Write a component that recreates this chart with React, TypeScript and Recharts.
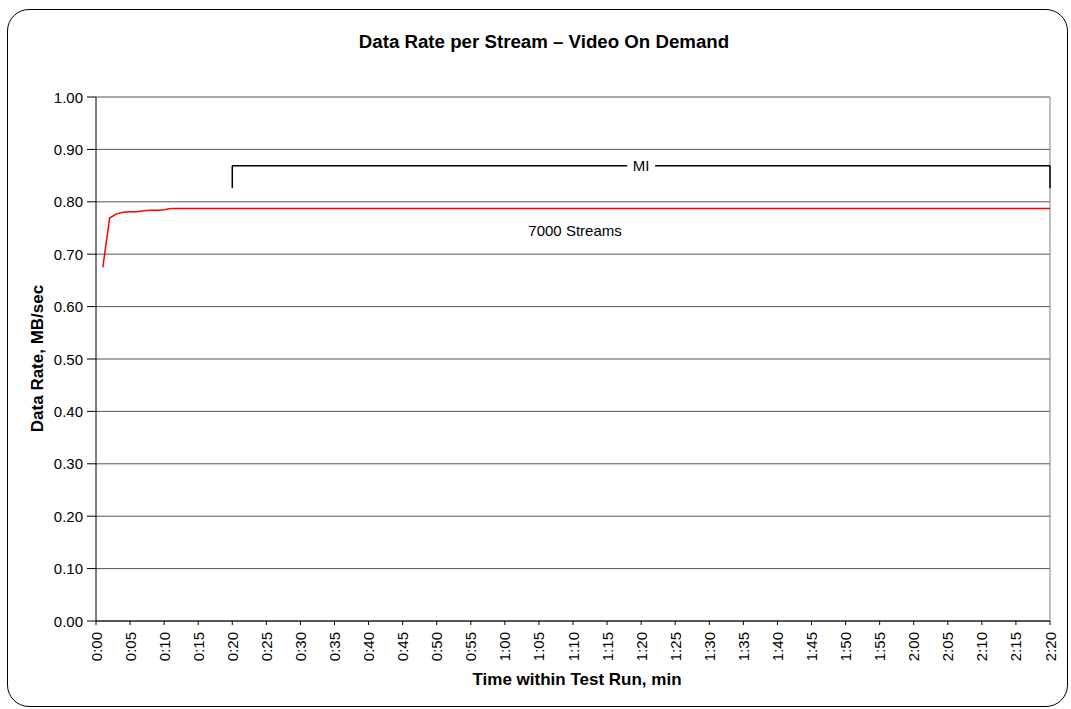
import React from 'react';
import { LineChart, Line, XAxis, YAxis, CartesianGrid, ReferenceLine, ReferenceDot } from 'recharts';

const minutes = [1, 2, 3, 4, 5, 6, 7, 8, 9, 10, 11, 12, 15, 20, 25, 30, 35, 40, 45, 50, 55, 60, 65, 70, 75, 80, 85, 90, 95, 100, 105, 110, 115, 120, 125, 130, 135, 140];
const rates = [0.675, 0.769, 0.777, 0.780, 0.781, 0.781, 0.783, 0.784, 0.784, 0.785, 0.787, 0.787, 0.787, 0.787, 0.787, 0.787, 0.787, 0.787, 0.787, 0.787, 0.787, 0.787, 0.787, 0.787, 0.787, 0.787, 0.787, 0.787, 0.787, 0.787, 0.787, 0.787, 0.787, 0.787, 0.787, 0.787, 0.787, 0.787];
const xTicks = [0, 5, 10, 15, 20, 25, 30, 35, 40, 45, 50, 55, 60, 65, 70, 75, 80, 85, 90, 95, 100, 105, 110, 115, 120, 125, 130, 135, 140];
const yTicks = [0, 0.1, 0.2, 0.3, 0.4, 0.5, 0.6, 0.7, 0.8, 0.9, 1.0];

const bracketStart = 20;
const bracketEnd = 140;
const bracketTop = 0.869;
const bracketBottom = 0.826;
const bracketLabel = 'MI';
const seriesLabel = '7000 Streams';
const seriesLabelPos = { x: 70.3, y: 0.745 };

const data = minutes.map((m, i) => ({ m, rate: rates[i] }));

const FONT = '"Liberation Sans", Arial, sans-serif';

const fmtTime = (m: number) => `${Math.floor(m / 60)}:${String(m % 60).padStart(2, '0')}`;

const XTick = (props: any) => {
  const { x, payload } = props;
  const ay = 632;
  return (
    <text
      x={x}
      y={ay}
      transform={`rotate(-90, ${x}, ${ay})`}
      textAnchor="end"
      dominantBaseline="central"
      fontSize={15}
      fill="#000"
      fontFamily={FONT}
    >
      {fmtTime(payload.value)}
    </text>
  );
};

const YTick = (props: any) => {
  const { y, payload } = props;
  return (
    <text x={83} y={y} textAnchor="end" dominantBaseline="central" fontSize={15} fill="#000" fontFamily={FONT}>
      {Number(payload.value).toFixed(2)}
    </text>
  );
};

const MiShape = (props: any) => {
  const { cx, cy } = props;
  return (
    <g>
      <rect x={cx - 14} y={cy - 9} width={28} height={18} fill="#fff" />
      <text x={cx} y={cy} textAnchor="middle" dominantBaseline="central" fontSize={15} fill="#000" fontFamily={FONT}>
        {bracketLabel}
      </text>
    </g>
  );
};

const StreamsShape = (props: any) => {
  const { cx, cy } = props;
  return (
    <text x={cx} y={cy} textAnchor="middle" dominantBaseline="central" fontSize={15} fill="#000" fontFamily={FONT}>
      {seriesLabel}
    </text>
  );
};

export default function App() {
  return (
    <div style={{ position: 'absolute', left: 0, top: 0, width: 1071, height: 709, background: '#fff', fontFamily: FONT }}>
      <div
        style={{
          position: 'absolute',
          left: 7,
          top: 9,
          width: 1061,
          height: 698,
          border: '1px solid #000',
          borderRadius: 22,
          boxSizing: 'border-box',
        }}
      />
      <svg width={1071} height={709} style={{ position: 'absolute', left: 0, top: 0 }}>
        <text x={544} y={48} textAnchor="middle" fontSize={18.7} fontWeight="bold" fontFamily={FONT} fill="#000">
          Data Rate per Stream – Video On Demand
        </text>
        <text x={577} y={685} textAnchor="middle" fontSize={17} fontWeight="bold" fontFamily={FONT} fill="#000">
          Time within Test Run, min
        </text>
        <text
          x={43}
          y={358.5}
          transform="rotate(-90, 43, 358.5)"
          textAnchor="middle"
          fontSize={17}
          fontWeight="bold"
          fontFamily={FONT}
          fill="#000"
        >
          Data Rate, MB/sec
        </text>
      </svg>
      <div style={{ position: 'absolute', left: 0, top: 0 }}>
        <LineChart width={1071} height={709} data={data} margin={{ top: 97, right: 21, bottom: 28, left: 36 }}>
          <CartesianGrid horizontal={true} vertical={false} stroke="#555555" strokeWidth={1} />
          <XAxis
            dataKey="m"
            type="number"
            domain={[0, 140]}
            ticks={xTicks}
            interval={0}
            height={60}
            tickSize={4}
            tick={<XTick />}
            stroke="#000"
            allowDataOverflow
          />
          <YAxis
            type="number"
            domain={[0, 1]}
            ticks={yTicks}
            interval={0}
            width={60}
            tickSize={9}
            tick={<YTick />}
            stroke="#000"
          />
          <ReferenceLine x={140} stroke="#808080" />
          <Line
            type="linear"
            dataKey="rate"
            stroke="#ff0000"
            strokeWidth={1.5}
            dot={false}
            isAnimationActive={false}
          />
          <ReferenceLine
            segment={[{ x: bracketStart, y: bracketTop }, { x: bracketEnd, y: bracketTop }]}
            stroke="#000"
            strokeWidth={1.5}
          />
          <ReferenceLine
            segment={[{ x: bracketStart, y: bracketTop }, { x: bracketStart, y: bracketBottom }]}
            stroke="#000"
            strokeWidth={1.5}
          />
          <ReferenceLine
            segment={[{ x: bracketEnd, y: bracketTop }, { x: bracketEnd, y: bracketBottom }]}
            stroke="#000"
            strokeWidth={1.5}
          />
          <ReferenceDot x={80} y={bracketTop} r={0} shape={<MiShape />} />
          <ReferenceDot x={seriesLabelPos.x} y={seriesLabelPos.y} r={0} shape={<StreamsShape />} />
        </LineChart>
      </div>
    </div>
  );
}
